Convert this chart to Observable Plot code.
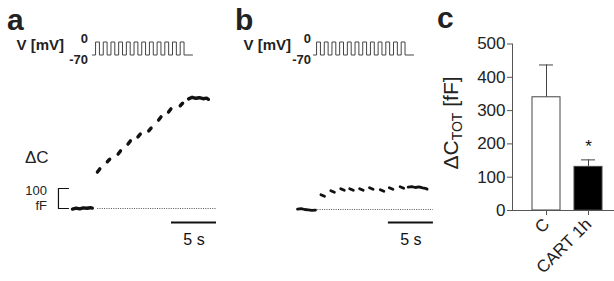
<!DOCTYPE html>
<html><head><meta charset="utf-8">
<script src="https://cdn.jsdelivr.net/npm/d3@7"></script>
<script src="https://cdn.jsdelivr.net/npm/@observablehq/plot@0.6"></script>
<style>
body{margin:0;background:#fff;}
#chart{position:relative;width:614px;height:281px;overflow:hidden;font-family:"Liberation Sans",Arial,sans-serif;color:#222;}
#chart svg{position:absolute;left:0;top:0;}
</style></head><body><div id="chart"></div>
<script>
// ---------- Panel a: capacitance trace (time s, ΔC fF) ----------
const aBaseT = [0, 0.4, 0.8, 1.2, 1.6, 2.0, 2.2];
const aBaseV = [-3, 2, -2, 3, 1, 4, 2];
const aStepT = [2.9, 4.0, 5.2, 6.3, 7.4, 8.6, 9.7, 10.8, 12.1];
const aStepStart = [182, 234, 272, 322, 358, 388, 442, 482, 514];
const aStepEnd = [198, 246, 288, 338, 372, 402, 458, 498, 526];
const aPlatT = [12.9, 13.3, 13.7, 14.1, 14.5, 14.9, 15.1];
const aPlatV = [548, 556, 551, 554, 549, 552, 546];
const aDotted = [2.8, 16];
const aTimeBar = [11, 16];
// ---------- Panel b ----------
const bBaseT = [0, 0.4, 0.8, 1.2, 1.6, 2.0];
const bBaseV = [2, 4, 0, -2, -4, -3];
const bStepT = [2.8, 3.9, 5.0, 6.0, 7.1, 8.2, 9.4, 10.4, 11.6];
const bStepStart = [74, 94, 104, 104, 104, 109, 99, 109, 114];
const bStepEnd = [66, 86, 96, 96, 96, 101, 91, 101, 106];
const bPlatT = [12.3, 12.7, 13.1, 13.5, 13.9, 14.2, 14.4];
const bPlatV = [112, 114, 110, 113, 108, 106, 102];
const bDotted = [2.0, 15.1];
const bTimeBar = [10.1, 15.1];
// scale bar for capacitance
const capBar = [0, 100];
// ---------- voltage protocol (0 / -70 mV pulses) ----------
const pulseOn  = [0.4, 1.4, 2.4, 3.4, 4.4, 5.4, 6.4, 7.4, 8.4, 9.4, 10.4, 11.4];
const pulseOff = [0.9, 1.9, 2.9, 3.9, 4.9, 5.9, 6.9, 7.9, 8.9, 9.9, 10.9, 11.9];
const protocolEnd = 13;
const vHold = -70, vStep = 0;
// ---------- Panel c: bar chart ----------
const groups = ["C", "CART 1h"];
const means = [340, 131];
const sems = [97, 21];
const fills = ["white", "black"];
const sig = ["", "*"];
const yTicks = [0, 100, 200, 300, 400, 500];

const FONT = "Liberation Sans, Arial, sans-serif";
const chart = document.getElementById("chart");
const base = {width: 614, height: 281, style: {background: "transparent", fontFamily: FONT, overflow: "visible", color: "#222"}};

function traceData(baseT, baseV, stepT, s0, s1, platT, platV, half) {
  const pts = [];
  baseT.forEach((t, i) => pts.push({t, v: baseV[i], s: "base"}));
  stepT.forEach((t, i) => { pts.push({t: t - half, v: s0[i], s: "s" + i}); pts.push({t: t + half, v: s1[i], s: "s" + i}); });
  platT.forEach((t, i) => pts.push({t, v: platV[i], s: "plat"}));
  return pts;
}
function wave() {
  const pts = [{t: 0, v: vHold}];
  pulseOn.forEach((on, i) => { pts.push({t: on, v: vHold}, {t: on, v: vStep}, {t: pulseOff[i], v: vStep}, {t: pulseOff[i], v: vHold}); });
  pts.push({t: protocolEnd, v: vHold});
  return pts;
}
function tracePlot(pts, xr, yr, dotted, timeBar, timeBarV, withCapBar, sw) {
  const marks = [
    Plot.ruleY([0], {x1: dotted[0], x2: dotted[1], stroke: "#555", strokeWidth: 1, strokeDasharray: "1,1.3"}),
    Plot.line(pts, {x: "t", y: "v", z: "s", stroke: "#111", strokeWidth: sw, strokeLinecap: "round", strokeLinejoin: "round"}),
    Plot.ruleY([timeBarV], {x1: timeBar[0], x2: timeBar[1], stroke: "#111", strokeWidth: 2}),
    Plot.text([(timeBar[0] + timeBar[1]) / 2], {x: d => d, y: timeBarV, text: () => "5 s", dy: 17, fontSize: 16, fill: "#111"})
  ];
  if (withCapBar) {
    marks.push(Plot.line([{t: -0.44, v: capBar[1]}, {t: -1.56, v: capBar[1]}, {t: -1.56, v: capBar[0]}, {t: -0.44, v: capBar[0]}],
      {x: "t", y: "v", stroke: "#111", strokeWidth: 1.2}));
  }
  return Plot.plot({...base,
    x: {domain: [0, 16], range: xr, axis: null},
    y: {domain: [0, 600], range: yr, axis: null},
    marks});
}
function wavePlot(xr) {
  return Plot.plot({...base,
    x: {domain: [0, protocolEnd], range: xr, axis: null},
    y: {domain: [vHold, vStep], range: [54.5, 41.5], axis: null},
    marks: [Plot.line(wave(), {x: "t", y: "v", stroke: "#444", strokeWidth: 1})]});
}

chart.append(wavePlot([92, 192]));
chart.append(wavePlot([313, 413]));
chart.append(tracePlot(traceData(aBaseT, aBaseV, aStepT, aStepStart, aStepEnd, aPlatT, aPlatV, 0.13), [72, 216], [208, 88], aDotted, aTimeBar, -70, true, 3.4));
chart.append(tracePlot(traceData(bBaseT, bBaseV, bStepT, bStepStart, bStepEnd, bPlatT, bPlatV, 0.2), [297, 441], [209, 89], bDotted, bTimeBar, -65, false, 2.8));

const table = groups.map((g, i) => ({group: g, mean: means[i], sem: sems[i], fill: fills[i], sig: sig[i]}));
chart.append(Plot.plot({...base,
  marginLeft: 512, marginRight: 0, marginTop: 43.5, marginBottom: 71,
  x: {domain: groups, range: [518, 616], padding: 1/3, axis: null},
  y: {domain: [0, 500], range: [210, 43.5], axis: null},
  color: {type: "identity"},
  marks: [
    Plot.ruleX(table, {x: "group", y1: "mean", y2: d => d.mean + d.sem, stroke: "#444", strokeWidth: 1}),
    Plot.tickY(table, {x: "group", y: d => d.mean + d.sem, stroke: "#444", strokeWidth: 1, insetLeft: 7, insetRight: 7}),
    Plot.barY(table, {x: "group", y: "mean", fill: "fill", stroke: "#444", strokeWidth: 1}),
    Plot.text(table, {x: "group", y: d => d.mean + d.sem, text: "sig", dy: -13, fontSize: 17, fill: "#111"}),
    Plot.frame({anchor: "left", stroke: "#555"}),
    Plot.ruleY([0], {stroke: "#555"}),
    Plot.axisY({ticks: yTicks, tickSize: 5, tickPadding: 2, fontSize: 17, label: null, stroke: "#555", fill: "#222"}),
    Plot.axisX({tickSize: 5, tickPadding: 6, tickRotate: -45, fontSize: 17, label: null, stroke: "#555", fill: "#222"})
  ]}));

// ---------- annotation text ----------
const svg = d3.select(chart).append("svg").attr("width", 614).attr("height", 281)
  .style("font-family", FONT).style("fill", "#222");
function label(x, y, t, size, weight, anchor) {
  return svg.append("text").attr("x", x).attr("y", y).attr("font-size", size)
    .attr("font-weight", weight).attr("text-anchor", anchor).text(t);
}
label(7, 30, "a", 30, "bold", "start");
label(235, 30, "b", 30, "bold", "start");
label(437, 28, "c", 30, "bold", "start");
label(64, 50, "V [mV]", 15, "bold", "end");
label(88, 43, "0", 13, "bold", "end");
label(88, 64, "-70", 13, "bold", "end");
label(291, 50, "V [mV]", 15, "bold", "end");
label(311, 43, "0", 13, "bold", "end");
label(311, 64, "-70", 13, "bold", "end");
label(25, 163, "ΔC", 17, "normal", "start");
label(47, 195, "100", 13, "normal", "end");
label(47, 210, "fF", 13, "normal", "end");
const yl = svg.append("text").attr("transform", "translate(458,123) rotate(-90)")
  .attr("text-anchor", "middle").attr("font-size", 21);
yl.append("tspan").text("ΔC");
yl.append("tspan").attr("font-size", 14).attr("dy", 4).text("TOT");
yl.append("tspan").attr("dy", -4).text(" [fF]");
</script></body></html>
